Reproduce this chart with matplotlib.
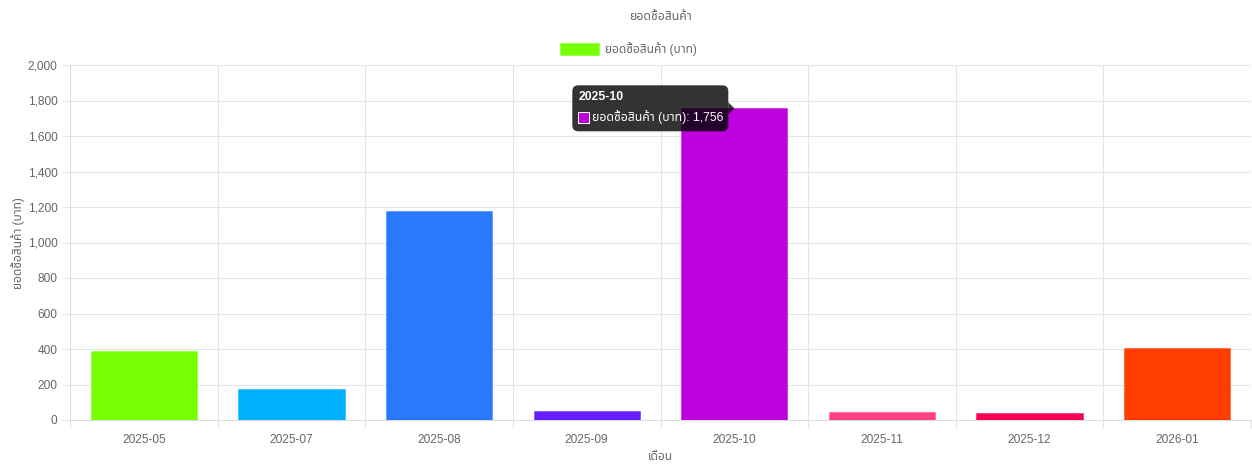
import matplotlib
matplotlib.use('Agg')
import matplotlib.pyplot as plt
from matplotlib import font_manager
from matplotlib.ft2font import FT2Font
from matplotlib.patches import FancyBboxPatch, Polygon, Rectangle
from matplotlib.ticker import FuncFormatter, MultipleLocator, FixedLocator
from matplotlib.colors import to_rgba

# ---------------- data ----------------
months = ['2025-05', '2025-07', '2025-08', '2025-09', '2025-10', '2025-11', '2025-12', '2026-01']
sales = [390, 175, 1175, 50, 1756, 47, 38, 403]
bar_colors = ['#76FF03', '#00B0FF', '#2979FF', '#651FFF', '#BF00DE', '#FF4081', '#F50057', '#FF3D00']
chart_title = 'ยอดซื้อสินค้า'
series_label = 'ยอดซื้อสินค้า (บาท)'
x_title = 'เดือน'
y_title = 'ยอดซื้อสินค้า (บาท)'
tooltip_index = 4

# ---------------- fonts ----------------
def find_thai_font():
    cands = []
    for f in font_manager.fontManager.ttflist:
        try:
            cmap = FT2Font(f.fname).get_charmap()
        except Exception:
            continue
        if ord('ย') in cmap and ord('้') in cmap:
            cands.append(f.name)
    for pref in ['Noto Sans Thai', 'Noto Sans Thai UI', 'Loma', 'Garuda', 'Tlwg Typo', 'Sarabun']:
        if pref in cands:
            return pref
    return cands[0] if cands else None

thai = find_thai_font()
fam = ['Liberation Sans'] + ([thai] if thai else []) + ['DejaVu Sans']
plt.rcParams['font.family'] = fam

TXT = '#666666'
GRID = '#e5e5e5'
LW = 0.75
W, H = 1252, 466
fig = plt.figure(figsize=(W / 100, H / 100), dpi=100)
L, R, T, B = 70, 1251, 65, 420
ax = fig.add_axes([L / W, (H - B) / H, (R - L) / W, (B - T) / H])

x = list(range(len(months)))
for i, (v, c) in enumerate(zip(sales, bar_colors)):
    ax.bar(i, v, width=0.72, color=c, edgecolor=to_rgba(c, 0.45), linewidth=LW, zorder=3)

ax.set_xlim(-0.5, len(months) - 0.5)
ax.set_ylim(0, 2000)
ax.yaxis.set_major_locator(MultipleLocator(200))
ax.yaxis.set_major_formatter(FuncFormatter(lambda v, p: f'{int(v):,}'))
ax.set_xticks(x)
ax.set_xticklabels(months)
ax.xaxis.set_minor_locator(FixedLocator([i - 0.5 for i in range(len(months) + 1)]))

ax.grid(axis='y', which='major', color=GRID, linewidth=LW, zorder=0)
ax.grid(axis='x', which='minor', color=GRID, linewidth=LW, zorder=0)
ax.tick_params(axis='x', which='major', length=0, pad=10, labelsize=8.6, labelcolor=TXT)
ax.tick_params(axis='x', which='minor', length=6, width=LW, color=GRID)
ax.tick_params(axis='y', which='major', length=6, width=LW, color=GRID, pad=3, labelsize=8.6, labelcolor=TXT)
for s in ['top', 'right']:
    ax.spines[s].set_visible(False)
for s in ['left', 'bottom']:
    ax.spines[s].set_color('#dcdcdc')
    ax.spines[s].set_linewidth(LW)

# axis titles
fig.text(660 / W, 1 - 457 / H, x_title, ha='center', va='center', fontsize=8.6, color=TXT)
fig.text(18 / W, 1 - 243 / H, y_title, ha='center', va='center', rotation=90, fontsize=8.6, color=TXT)

# title and legend
fig.text(660 / W, 1 - 17 / H, chart_title, ha='center', va='center', fontsize=8.8,
         fontweight='bold', color=TXT)
fig.patches.append(Rectangle((560, H - 55), 39, 12, transform=None, facecolor=bar_colors[0],
                             edgecolor=to_rgba(bar_colors[0], 0.45), linewidth=LW))
fig.text(605 / W, 1 - 49 / H, series_label, ha='left', va='center', fontsize=8.6, color=TXT)

# tooltip
fig.canvas.draw()
px, py = ax.transData.transform((tooltip_index, sales[tooltip_index]))
bx1 = px - 6
bx0 = bx1 - 156
by0 = py - 23
by1 = py + 23
tip_bg = (0, 0, 0, 0.8)
box = FancyBboxPatch((bx0, by0), bx1 - bx0, by1 - by0, boxstyle='round,pad=0,rounding_size=6',
                     transform=None, facecolor=tip_bg, edgecolor='none', zorder=10)
fig.patches.append(box)
caret = Polygon([(bx1, py + 6), (px, py), (bx1, py - 6)], closed=True, transform=None,
                facecolor=tip_bg, edgecolor='none', zorder=10)
fig.patches.append(caret)
fig.text((bx0 + 6) / W, (by1 - 12) / H, months[tooltip_index], ha='left', va='center',
         fontsize=8.8, fontweight='bold', color='white', zorder=11)
fig.patches.append(Rectangle((bx0 + 6, by0 + 8), 11, 11, transform=None,
                             facecolor=bar_colors[tooltip_index], edgecolor='white', linewidth=LW, zorder=11))
fig.text((bx0 + 20) / W, (by0 + 14) / H, f'{series_label}: {sales[tooltip_index]:,}', ha='left',
         va='center', fontsize=8.8, color='white', zorder=11)

fig.savefig('out.png', dpi=100)
